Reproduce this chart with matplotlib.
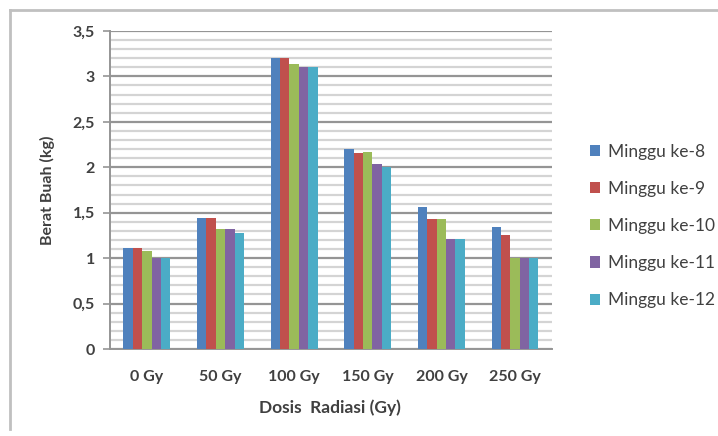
import matplotlib
matplotlib.use("Agg")
import matplotlib.pyplot as plt
import numpy as np
from matplotlib.lines import Line2D
from matplotlib.ticker import MultipleLocator, FuncFormatter

# Berat buah per dosis radiasi, minggu ke-8 s/d ke-12
dosis = ["0 Gy", "50 Gy", "100 Gy", "150 Gy", "200 Gy", "250 Gy"]
minggu = ["Minggu ke-8", "Minggu ke-9", "Minggu ke-10", "Minggu ke-11", "Minggu ke-12"]
minggu_8 = [1.11, 1.44, 3.20, 2.20, 1.56, 1.34]
minggu_9 = [1.11, 1.44, 3.20, 2.16, 1.43, 1.25]
minggu_10 = [1.08, 1.32, 3.14, 2.17, 1.43, 1.00]
minggu_11 = [1.00, 1.32, 3.10, 2.04, 1.21, 1.00]
minggu_12 = [1.00, 1.28, 3.10, 2.00, 1.21, 1.00]

warna = ["#4F81BD", "#C0504D", "#9BBB59", "#8064A2", "#4BACC6"]
teks = "#404040"

plt.rcParams["font.family"] = ["Lato", "DejaVu Sans"]

fig = plt.figure(figsize=(7.18, 4.36), dpi=100)
ax = fig.add_axes([0.1532, 0.1995, 0.6155, 0.7295])

seri = [minggu_8, minggu_9, minggu_10, minggu_11, minggu_12]
x = np.arange(len(dosis))
lebar = 0.127
for i, (nilai, label) in enumerate(zip(seri, minggu)):
    ax.bar(x + (i - 2) * lebar, nilai, width=lebar, color=warna[i],
           label=label, zorder=3)

ax.set_xlim(-0.5, len(dosis) - 0.5)
ax.set_ylim(0, 3.5)
ax.yaxis.set_major_locator(MultipleLocator(0.5))
ax.yaxis.set_minor_locator(MultipleLocator(0.1))
ax.yaxis.set_major_formatter(FuncFormatter(lambda v, p: f"{v:g}".replace(".", ",")))
ax.grid(which="minor", axis="y", color="#d4d4d4", linewidth=1.6, zorder=0)
ax.grid(which="major", axis="y", color="#959595", linewidth=1.6, zorder=1)
ax.set_axisbelow(True)

ax.set_xticks(x)
ax.set_xticklabels(dosis)
ax.tick_params(axis="x", length=0, pad=15, labelsize=11.5, labelcolor=teks)
ax.tick_params(axis="y", which="major", length=5, width=1.2, color="#959595",
               pad=6, labelsize=11.5, labelcolor=teks)
ax.tick_params(axis="y", which="minor", length=0)
for lbl in ax.get_xticklabels() + ax.get_yticklabels():
    lbl.set_fontweight("bold")

for s in ["top", "right"]:
    ax.spines[s].set_visible(False)
for s in ["left", "bottom"]:
    ax.spines[s].set_color("#959595")
    ax.spines[s].set_linewidth(1.4)

ax.set_ylabel("Berat Buah (kg)", fontsize=11.5, fontweight="bold", color=teks)
ax.yaxis.set_label_coords(-0.1425, 0.5)
ax.yaxis.label.set_va("center")
ax.set_xlabel("Dosis  Radiasi (Gy)", fontsize=12.5, fontweight="bold", color=teks)
ax.xaxis.set_label_coords(0.498, -0.185)
ax.xaxis.label.set_va("center")

leg = ax.legend(loc="center left", bbox_to_anchor=(1.05, 0.387), frameon=False,
                fontsize=12.5, labelspacing=1.22, handlelength=0.6, handleheight=0.6,
                handletextpad=0.45)
for t in leg.get_texts():
    t.set_color(teks)

# bingkai luar grafik
fig.add_artist(Line2D([0.014, 1.0], [0.977, 0.977], transform=fig.transFigure,
                      color="#c0c0c0", linewidth=2))
fig.add_artist(Line2D([0.014, 0.014], [0.977, 0.015], transform=fig.transFigure,
                      color="#c0c0c0", linewidth=2))

fig.savefig("out.png", dpi=100, facecolor="white")
